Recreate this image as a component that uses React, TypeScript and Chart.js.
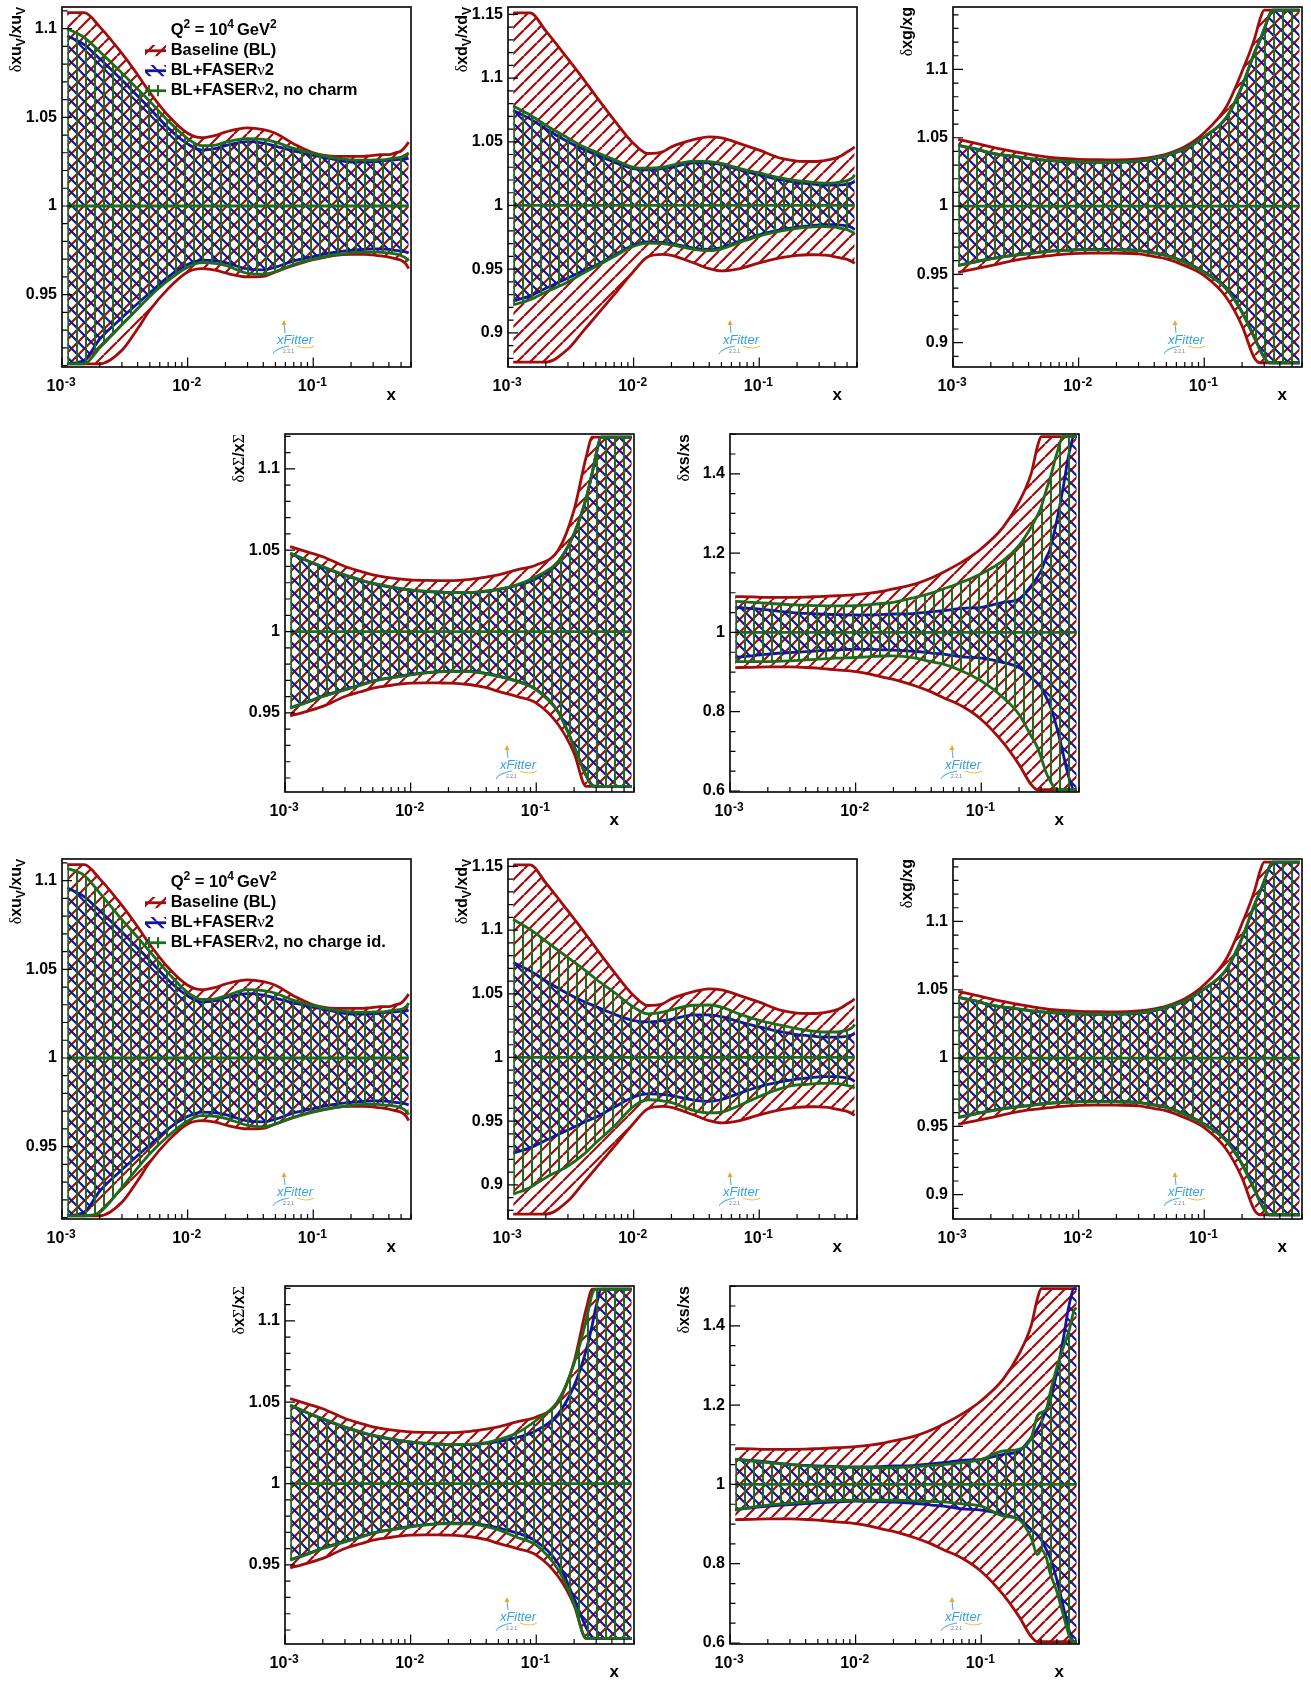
import React, { useEffect, useRef } from 'react';
import { Chart, registerables } from 'chart.js';

Chart.register(...registerables);

// ---------------- data ----------------
const X = [0.0011, 0.0015, 0.002, 0.003, 0.004, 0.005, 0.007, 0.01, 0.013, 0.017, 0.02, 0.03, 0.04, 0.05, 0.07, 0.1, 0.15, 0.2, 0.25, 0.28, 0.3, 0.33, 0.35, 0.4, 0.45, 0.5, 0.55, 0.575];
const CENTRAL = 1;

// xu_v
const UV_BL_UP = [1.109, 1.109, 1.101, 1.086, 1.074, 1.064, 1.051, 1.041, 1.0385, 1.040, 1.0417, 1.044, 1.043, 1.041, 1.035, 1.030, 1.028, 1.028, 1.028, 1.0283, 1.0285, 1.0288, 1.029, 1.029, 1.030, 1.031, 1.034, 1.036];
const UV_BL_LO = [0.911, 0.911, 0.911, 0.9186, 0.9308, 0.9412, 0.9534, 0.9628, 0.9647, 0.9637, 0.9622, 0.960, 0.9603, 0.9628, 0.9665, 0.9697, 0.9722, 0.9727, 0.9727, 0.9726, 0.9724, 0.972, 0.9718, 0.9712, 0.9703, 0.9694, 0.9671, 0.9647];
const UV_F2_UP = [1.096, 1.091, 1.083, 1.071, 1.062, 1.055, 1.044, 1.035, 1.0315, 1.0325, 1.034, 1.0363, 1.0355, 1.0338, 1.031, 1.0286, 1.0261, 1.0248, 1.0248, 1.0248, 1.025, 1.0252, 1.0254, 1.0258, 1.026, 1.0263, 1.0266, 1.0269];
const UV_F2_LO = [0.911, 0.913, 0.925, 0.937, 0.945, 0.951, 0.960, 0.967, 0.9695, 0.969, 0.968, 0.9645, 0.964, 0.9655, 0.969, 0.9715, 0.974, 0.975, 0.9755, 0.9757, 0.9758, 0.9758, 0.9757, 0.9755, 0.975, 0.9745, 0.974, 0.9735];
const UV_NC_UP = [1.100, 1.095, 1.087, 1.075, 1.066, 1.059, 1.048, 1.038, 1.034, 1.0345, 1.036, 1.038, 1.0375, 1.036, 1.0325, 1.0295, 1.027, 1.026, 1.0258, 1.0258, 1.026, 1.026, 1.026, 1.0265, 1.027, 1.0275, 1.029, 1.030];
const UV_NC_LO = [0.911, 0.911, 0.920, 0.933, 0.942, 0.949, 0.958, 0.9655, 0.968, 0.9675, 0.9665, 0.962, 0.9615, 0.963, 0.967, 0.970, 0.9725, 0.9735, 0.974, 0.974, 0.974, 0.974, 0.9738, 0.9735, 0.973, 0.972, 0.9705, 0.969];
const UV_NQ_UP = [1.107, 1.103, 1.093, 1.078, 1.068, 1.060, 1.048, 1.037, 1.033, 1.0335, 1.035, 1.0385, 1.038, 1.0365, 1.0325, 1.0295, 1.027, 1.026, 1.0258, 1.0258, 1.026, 1.026, 1.026, 1.0265, 1.027, 1.0275, 1.029, 1.031];
const UV_NQ_LO = [0.911, 0.911, 0.913, 0.927, 0.938, 0.946, 0.956, 0.9645, 0.9675, 0.967, 0.966, 0.962, 0.9612, 0.9628, 0.9665, 0.9695, 0.972, 0.9732, 0.9738, 0.9738, 0.9738, 0.9738, 0.9736, 0.9733, 0.9728, 0.9718, 0.970, 0.968];

// xd_v
const DV_BL_UP = [1.1512, 1.1512, 1.137, 1.115, 1.099, 1.086, 1.067, 1.0486, 1.0408, 1.0421, 1.046, 1.0517, 1.0538, 1.053, 1.0486, 1.0434, 1.0369, 1.0348, 1.0345, 1.0345, 1.0348, 1.0352, 1.0357, 1.037, 1.039, 1.042, 1.0445, 1.046];
const DV_BL_LO = [0.8771, 0.8771, 0.8771, 0.8873, 0.9018, 0.913, 0.930, 0.9483, 0.9597, 0.9616, 0.9608, 0.955, 0.9504, 0.9486, 0.9504, 0.955, 0.959, 0.9608, 0.9613, 0.9613, 0.9612, 0.961, 0.9608, 0.9597, 0.9587, 0.9577, 0.9558, 0.9545];
const DV_F2_UP = [1.0745, 1.068, 1.060, 1.050, 1.044, 1.040, 1.034, 1.029, 1.028, 1.029, 1.030, 1.0335, 1.0335, 1.032, 1.028, 1.024, 1.020, 1.018, 1.017, 1.0165, 1.0162, 1.016, 1.016, 1.016, 1.0162, 1.0168, 1.0178, 1.019];
const DV_F2_LO = [0.925, 0.929, 0.935, 0.943, 0.949, 0.953, 0.961, 0.969, 0.9715, 0.971, 0.970, 0.9665, 0.9655, 0.967, 0.972, 0.977, 0.981, 0.983, 0.984, 0.9845, 0.9848, 0.985, 0.985, 0.985, 0.9845, 0.984, 0.9825, 0.981];
const DV_NC_UP = [1.078, 1.071, 1.063, 1.053, 1.046, 1.042, 1.036, 1.030, 1.0293, 1.030, 1.0315, 1.0348, 1.0345, 1.033, 1.029, 1.0255, 1.0215, 1.0195, 1.0185, 1.018, 1.0178, 1.0175, 1.0175, 1.0178, 1.0185, 1.0195, 1.0215, 1.024];
const DV_NC_LO = [0.922, 0.926, 0.932, 0.940, 0.947, 0.952, 0.960, 0.968, 0.9705, 0.970, 0.969, 0.9655, 0.9645, 0.966, 0.971, 0.976, 0.980, 0.982, 0.983, 0.9833, 0.9835, 0.9835, 0.9833, 0.983, 0.982, 0.981, 0.979, 0.977];
const DV_NQ_UP = [1.1083, 1.1005, 1.0914, 1.0784, 1.0693, 1.0616, 1.0512, 1.0395, 1.0343, 1.0355, 1.0375, 1.041, 1.0412, 1.0395, 1.034, 1.0291, 1.0252, 1.0226, 1.021, 1.0205, 1.0202, 1.020, 1.020, 1.020, 1.0205, 1.0215, 1.0235, 1.026];
const DV_NQ_LO = [0.8927, 0.898, 0.9057, 0.9148, 0.9239, 0.933, 0.946, 0.9616, 0.9668, 0.966, 0.9645, 0.9585, 0.9565, 0.957, 0.9625, 0.9693, 0.9758, 0.9784, 0.979, 0.9795, 0.9797, 0.9797, 0.9797, 0.9797, 0.979, 0.978, 0.977, 0.9758];

// xg
const G_BL_UP = [1.0488, 1.046, 1.0434, 1.040, 1.038, 1.0365, 1.035, 1.0342, 1.034, 1.0338, 1.0338, 1.0345, 1.036, 1.038, 1.0434, 1.0537, 1.0728, 1.0985, 1.1218, 1.1377, 1.1434, 1.1434, 1.1434, 1.1434, 1.1434, 1.1434, 1.1434, 1.1434];
const G_BL_LO = [0.9515, 0.954, 0.9564, 0.960, 0.962, 0.963, 0.9645, 0.9654, 0.9656, 0.9656, 0.9655, 0.965, 0.963, 0.9613, 0.9564, 0.949, 0.9331, 0.9123, 0.889, 0.8853, 0.8853, 0.8853, 0.8853, 0.8853, 0.8853, 0.8853, 0.8853, 0.8853];
const G_F2_UP = [1.0444, 1.0418, 1.0388, 1.0363, 1.0348, 1.0338, 1.0328, 1.0321, 1.032, 1.032, 1.0321, 1.0328, 1.0348, 1.0371, 1.0418, 1.0505, 1.0647, 1.0877, 1.1117, 1.1222, 1.1294, 1.1398, 1.1434, 1.1434, 1.1434, 1.1434, 1.1434, 1.1434];
const G_F2_LO = [0.9566, 0.9592, 0.9615, 0.9639, 0.9652, 0.9664, 0.9674, 0.9681, 0.9682, 0.9682, 0.9681, 0.9676, 0.9657, 0.9639, 0.959, 0.9517, 0.9395, 0.9225, 0.9042, 0.8945, 0.8895, 0.8853, 0.8853, 0.8853, 0.8853, 0.8853, 0.8853, 0.8853];
const G_NC_UP = [1.0446, 1.042, 1.039, 1.0365, 1.035, 1.034, 1.033, 1.0323, 1.0322, 1.0322, 1.0323, 1.033, 1.035, 1.0373, 1.042, 1.0507, 1.065, 1.088, 1.112, 1.1225, 1.1297, 1.140, 1.1434, 1.1434, 1.1434, 1.1434, 1.1434, 1.1434];
const G_NC_LO = [0.9564, 0.959, 0.9613, 0.9637, 0.965, 0.9662, 0.9672, 0.9679, 0.968, 0.968, 0.9679, 0.9674, 0.9655, 0.9637, 0.9588, 0.9515, 0.9392, 0.9221, 0.9037, 0.894, 0.889, 0.8853, 0.8853, 0.8853, 0.8853, 0.8853, 0.8853, 0.8853];
const G_NQ_UP = [1.0446, 1.042, 1.039, 1.0365, 1.035, 1.034, 1.033, 1.0323, 1.0322, 1.0322, 1.0323, 1.033, 1.035, 1.0373, 1.042, 1.0507, 1.065, 1.088, 1.112, 1.1225, 1.1297, 1.140, 1.1434, 1.1434, 1.1434, 1.1434, 1.1434, 1.1434];
const G_NQ_LO = [0.9564, 0.959, 0.9613, 0.9637, 0.965, 0.9662, 0.9672, 0.9679, 0.968, 0.968, 0.9679, 0.9674, 0.9655, 0.9637, 0.9588, 0.9515, 0.9392, 0.9221, 0.9037, 0.894, 0.889, 0.8853, 0.8853, 0.8853, 0.8853, 0.8853, 0.8853, 0.8853];

// xSigma
const SIG_BL_UP = [1.0522, 1.049, 1.046, 1.040, 1.037, 1.0348, 1.033, 1.0317, 1.0314, 1.0313, 1.0313, 1.0321, 1.0335, 1.0348, 1.0379, 1.0409, 1.0501, 1.0747, 1.1075, 1.1195, 1.1195, 1.1195, 1.1195, 1.1195, 1.1195, 1.1195, 1.1195, 1.1195];
const SIG_BL_LO = [0.9482, 0.951, 0.954, 0.9601, 0.963, 0.9652, 0.967, 0.9683, 0.9685, 0.9684, 0.9683, 0.9673, 0.9655, 0.9632, 0.9601, 0.956, 0.9427, 0.9253, 0.9048, 0.9048, 0.9048, 0.9048, 0.9048, 0.9048, 0.9048, 0.9048, 0.9048, 0.9048];
const SIG_F2_UP = [1.048, 1.0435, 1.0395, 1.0345, 1.0315, 1.0295, 1.0272, 1.0255, 1.0247, 1.0242, 1.024, 1.024, 1.0248, 1.0258, 1.0283, 1.0325, 1.043, 1.060, 1.082, 1.098, 1.109, 1.1195, 1.1195, 1.1195, 1.1195, 1.1195, 1.1195, 1.1195];
const SIG_F2_LO = [0.9532, 0.9568, 0.9603, 0.9645, 0.9672, 0.9695, 0.9717, 0.9736, 0.9747, 0.9754, 0.9756, 0.9756, 0.9743, 0.9727, 0.9697, 0.9645, 0.9505, 0.9295, 0.9115, 0.9055, 0.9048, 0.9048, 0.9048, 0.9048, 0.9048, 0.9048, 0.9048, 0.9048];
const SIG_NC_UP = [1.0482, 1.0437, 1.0399, 1.0348, 1.0318, 1.0297, 1.0274, 1.0256, 1.0248, 1.0243, 1.024, 1.024, 1.025, 1.026, 1.0287, 1.0338, 1.0432, 1.0603, 1.0823, 1.0983, 1.1093, 1.1195, 1.1195, 1.1195, 1.1195, 1.1195, 1.1195, 1.1195];
const SIG_NC_LO = [0.9529, 0.9565, 0.9601, 0.9642, 0.967, 0.9693, 0.9715, 0.9734, 0.9745, 0.9752, 0.9754, 0.9754, 0.974, 0.9724, 0.9693, 0.9642, 0.9502, 0.9292, 0.9112, 0.9052, 0.9048, 0.9048, 0.9048, 0.9048, 0.9048, 0.9048, 0.9048, 0.9048];
const SIG_NQ_UP = [1.0482, 1.0437, 1.0399, 1.0348, 1.0318, 1.0297, 1.0274, 1.0256, 1.0248, 1.0243, 1.024, 1.0242, 1.0252, 1.027, 1.031, 1.0389, 1.0512, 1.0737, 1.1003, 1.117, 1.1195, 1.1195, 1.1195, 1.1195, 1.1195, 1.1195, 1.1195, 1.1195];
const SIG_NQ_LO = [0.9529, 0.9565, 0.9601, 0.9642, 0.967, 0.9693, 0.9715, 0.9734, 0.9745, 0.9752, 0.9753, 0.9752, 0.9735, 0.9715, 0.967, 0.9621, 0.9468, 0.9263, 0.9048, 0.9048, 0.9048, 0.9048, 0.9048, 0.9048, 0.9048, 0.9048, 0.9048, 0.9048];

// xs
const S_BL_UP = [1.0903, 1.0895, 1.0886, 1.0886, 1.089, 1.0903, 1.0925, 1.0954, 1.099, 1.105, 1.1097, 1.1224, 1.137, 1.152, 1.1773, 1.2111, 1.2659, 1.3292, 1.401, 1.4686, 1.4939, 1.4939, 1.4939, 1.4939, 1.4939, 1.4939, 1.4939, 1.4939];
const S_BL_LO = [0.9113, 0.912, 0.913, 0.913, 0.9115, 0.9097, 0.9055, 0.9012, 0.895, 0.886, 0.8818, 0.8649, 0.85, 0.8354, 0.8143, 0.7805, 0.7214, 0.6665, 0.6159, 0.6032, 0.6032, 0.6032, 0.6032, 0.6032, 0.6032, 0.6032, 0.6032, 0.6032];
const S_F2_UP = [1.0633, 1.06, 1.0566, 1.0507, 1.048, 1.0464, 1.045, 1.0439, 1.044, 1.0455, 1.0464, 1.0481, 1.052, 1.0549, 1.0608, 1.0633, 1.076, 1.0844, 1.118, 1.14, 1.1562, 1.19, 1.2068, 1.2828, 1.3672, 1.4517, 1.4939, 1.4939];
const S_F2_LO = [0.9367, 0.941, 0.9451, 0.9493, 0.9515, 0.9536, 0.9557, 0.9578, 0.957, 0.956, 0.9552, 0.9519, 0.948, 0.9451, 0.9384, 0.935, 0.924, 0.9113, 0.886, 0.872, 0.8607, 0.835, 0.8185, 0.7594, 0.6918, 0.6327, 0.6032, 0.6032];
const S_NC_UP = [1.0785, 1.076, 1.0735, 1.07, 1.0685, 1.0675, 1.067, 1.0675, 1.070, 1.0735, 1.076, 1.0886, 1.099, 1.1097, 1.1266, 1.1477, 1.1815, 1.2195, 1.266, 1.295, 1.3166, 1.36, 1.3842, 1.4517, 1.4939, 1.4939, 1.4939, 1.4939];
const S_NC_LO = [0.9265, 0.9265, 0.9265, 0.9282, 0.9305, 0.9325, 0.935, 0.9367, 0.939, 0.9405, 0.9409, 0.935, 0.926, 0.9198, 0.9029, 0.8776, 0.8354, 0.7931, 0.7383, 0.71, 0.6834, 0.645, 0.6285, 0.6032, 0.6032, 0.6032, 0.6032, 0.6032];
const S_NQ_UP = [1.063, 1.059, 1.055, 1.05, 1.047, 1.045, 1.044, 1.043, 1.0425, 1.042, 1.042, 1.045, 1.048, 1.05, 1.055, 1.0633, 1.0844, 1.0886, 1.118, 1.173, 1.1815, 1.19, 1.225, 1.2955, 1.346, 1.388, 1.44, 1.445];
const S_NQ_LO = [0.935, 0.943, 0.948, 0.952, 0.955, 0.957, 0.959, 0.96, 0.96, 0.96, 0.96, 0.958, 0.957, 0.956, 0.951, 0.945, 0.9198, 0.9113, 0.865, 0.8227, 0.835, 0.815, 0.7805, 0.7298, 0.6707, 0.62, 0.6032, 0.6032];

// axis ticks
const X_MIN = 0.001;
const X_MAX = 0.6;
const X_DECADES = [0.001, 0.01, 0.1];
const X_TICK_LABELS = ['10', '10', '10'];
const X_TICK_EXPONENTS = ['-3', '-2', '-1'];

const UV_Y_MAJOR = [0.95, 1, 1.05, 1.1];
const UV_Y_LABELS = ['0.95', '1', '1.05', '1.1'];
const DV_Y_MAJOR = [0.9, 0.95, 1, 1.05, 1.1, 1.15];
const DV_Y_LABELS = ['0.9', '0.95', '1', '1.05', '1.1', '1.15'];
const G_Y_MAJOR = [0.9, 0.95, 1, 1.05, 1.1];
const G_Y_LABELS = ['0.9', '0.95', '1', '1.05', '1.1'];
const SIG_Y_MAJOR = [0.95, 1, 1.05, 1.1];
const SIG_Y_LABELS = ['0.95', '1', '1.05', '1.1'];
const S_Y_MAJOR = [0.6, 0.8, 1, 1.2, 1.4];
const S_Y_LABELS = ['0.6', '0.8', '1', '1.2', '1.4'];

const LEGEND_NC = ['Baseline (BL)', 'BL+FASERν2', 'BL+FASERν2, no charm'];
const LEGEND_NQ = ['Baseline (BL)', 'BL+FASERν2', 'BL+FASERν2, no charge id.'];

// ---------------- style ----------------
const RED = '#a30c0c';
const BLUE = '#1414a0';
const GREEN = '#1d6b1d';
const SANS = '"Liberation Sans", Arimo, Arial, Helvetica, sans-serif';
const SERIF = '"Liberation Serif", "DejaVu Serif", serif';
const LINE_W = 2.8;
const X_LABEL_SHIFT = -6.5;

type Piece = { t: string; k: 'b' | 'sym' | 'sub' | 'sup' | 'gap'; w?: number };

const TITLE_UV: Piece[] = [{ t: 'δ', k: 'sym' }, { t: 'xu', k: 'b' }, { t: 'V', k: 'sub' }, { t: '/xu', k: 'b' }, { t: 'V', k: 'sub' }];
const TITLE_DV: Piece[] = [{ t: 'δ', k: 'sym' }, { t: 'xd', k: 'b' }, { t: 'V', k: 'sub' }, { t: '/xd', k: 'b' }, { t: 'V', k: 'sub' }];
const TITLE_G: Piece[] = [{ t: 'δ', k: 'sym' }, { t: 'xg/xg', k: 'b' }];
const TITLE_SIG: Piece[] = [{ t: 'δ', k: 'sym' }, { t: 'x', k: 'b' }, { t: 'Σ', k: 'sym' }, { t: '/x', k: 'b' }, { t: 'Σ', k: 'sym' }];
const TITLE_S: Piece[] = [{ t: 'δ', k: 'sym' }, { t: 'xs/xs', k: 'b' }];
const Q_PIECES: Piece[] = [{ t: 'Q', k: 'b' }, { t: '2', k: 'sup' }, { t: ' = 10', k: 'b' }, { t: '4', k: 'sup' }, { t: '', k: 'gap', w: 3 }, { t: 'GeV', k: 'b' }, { t: '2', k: 'sup' }];

function pieceFont(k: string, size: number) {
  if (k === 'sym') return `${size}px ${SERIF}`;
  if (k === 'sub' || k === 'sup') return `bold ${Math.round(size * 0.72)}px ${SANS}`;
  return `bold ${size}px ${SANS}`;
}
function piecesWidth(ctx: CanvasRenderingContext2D, pieces: Piece[], size: number) {
  let w = 0;
  for (const p of pieces) {
    if (p.k === 'gap') { w += p.w || 0; continue; }
    ctx.font = pieceFont(p.k, size);
    w += ctx.measureText(p.t).width;
  }
  return w;
}
function drawPieces(ctx: CanvasRenderingContext2D, pieces: Piece[], x: number, y: number, size: number) {
  let cx = x;
  for (const p of pieces) {
    if (p.k === 'gap') { cx += p.w || 0; continue; }
    ctx.font = pieceFont(p.k, size);
    const dy = p.k === 'sub' ? size * 0.26 : p.k === 'sup' ? -size * 0.4 : 0;
    ctx.fillText(p.t, cx, y + dy);
    cx += ctx.measureText(p.t).width;
  }
}
function textPieces(s: string): Piece[] {
  const parts = s.split('ν');
  const out: Piece[] = [];
  parts.forEach((p, i) => {
    if (i > 0) out.push({ t: 'ν', k: 'sym' });
    if (p) out.push({ t: p, k: 'b' });
  });
  return out;
}

type Hatch = 'fwd' | 'back' | 'vert';
function makeHatch(kind: Hatch, color: string): any {
  const c = document.createElement('canvas');
  const s = kind === 'vert' ? 9 : 13;
  c.width = s;
  c.height = s;
  const g = c.getContext('2d')!;
  g.strokeStyle = color;
  g.fillStyle = color;
  if (kind === 'vert') {
    g.fillRect(4, 0, 2, s);
  } else {
    g.lineWidth = 2.2;
    g.beginPath();
    for (let k = -1; k <= 1; k++) {
      if (kind === 'fwd') { g.moveTo(k * s, s); g.lineTo(k * s + s, 0); }
      else { g.moveTo(k * s, 0); g.lineTo(k * s + s, s); }
    }
    g.stroke();
  }
  return g.createPattern(c, 'repeat') || color;
}

const X_TICK_VALUES: number[] = [];
for (const d of X_DECADES) {
  for (let m = 1; m <= 9; m++) {
    const v = +(d * m).toPrecision(6);
    if (v <= X_MAX + 1e-9) X_TICK_VALUES.push(v);
  }
}
const decadeIdx = (v: number) => X_DECADES.findIndex((d) => Math.abs(v - d) / d < 1e-6);

function yTickValues(min: number, max: number, step: number) {
  const out: number[] = [];
  const a = Math.ceil(min / step - 1e-9);
  const b = Math.floor(max / step + 1e-9);
  for (let k = a; k <= b; k++) out.push(+(k * step).toFixed(6));
  return out;
}

type Band = { up: number[]; lo: number[] };
type PanelCfg = {
  L: number; T: number; h: number;
  yMin: number; yMax: number; yMajor: number[]; yLabels: string[]; yStep: number;
  title: Piece[];
  red: Band; blue: Band; green: Band;
  legend?: string[];
};

const PAD_TOP = 16;
const PAD_RIGHT = 12;
const Y_AXIS_W = 62;
const X_AXIS_H = 38;
const PLOT_W = 349;
const CANVAS_W = Y_AXIS_W + PLOT_W + PAD_RIGHT;

const GROUPS = [
  { dy: 0, green: 'nc' },
  { dy: 852, green: 'nq' },
];

function buildPanels(): PanelCfg[] {
  const out: PanelCfg[] = [];
  for (const g of GROUPS) {
    const nq = g.green === 'nq';
    out.push({
      L: 62, T: 7 + g.dy, h: 360, yMin: 0.9092, yMax: 1.1122, yMajor: UV_Y_MAJOR, yLabels: UV_Y_LABELS, yStep: 0.01, title: TITLE_UV,
      red: { up: UV_BL_UP, lo: UV_BL_LO }, blue: { up: UV_F2_UP, lo: UV_F2_LO },
      green: nq ? { up: UV_NQ_UP, lo: UV_NQ_LO } : { up: UV_NC_UP, lo: UV_NC_LO },
      legend: nq ? LEGEND_NQ : LEGEND_NC,
    });
    out.push({
      L: 508, T: 7 + g.dy, h: 360, yMin: 0.8732, yMax: 1.1558, yMajor: DV_Y_MAJOR, yLabels: DV_Y_LABELS, yStep: 0.01, title: TITLE_DV,
      red: { up: DV_BL_UP, lo: DV_BL_LO }, blue: { up: DV_F2_UP, lo: DV_F2_LO },
      green: nq ? { up: DV_NQ_UP, lo: DV_NQ_LO } : { up: DV_NC_UP, lo: DV_NC_LO },
    });
    out.push({
      L: 953, T: 7 + g.dy, h: 360, yMin: 0.8822, yMax: 1.1457, yMajor: G_Y_MAJOR, yLabels: G_Y_LABELS, yStep: 0.01, title: TITLE_G,
      red: { up: G_BL_UP, lo: G_BL_LO }, blue: { up: G_F2_UP, lo: G_F2_LO },
      green: nq ? { up: G_NQ_UP, lo: G_NQ_LO } : { up: G_NC_UP, lo: G_NC_LO },
    });
    out.push({
      L: 285, T: 434 + g.dy, h: 358, yMin: 0.9014, yMax: 1.1214, yMajor: SIG_Y_MAJOR, yLabels: SIG_Y_LABELS, yStep: 0.01, title: TITLE_SIG,
      red: { up: SIG_BL_UP, lo: SIG_BL_LO }, blue: { up: SIG_F2_UP, lo: SIG_F2_LO },
      green: nq ? { up: SIG_NQ_UP, lo: SIG_NQ_LO } : { up: SIG_NC_UP, lo: SIG_NC_LO },
    });
    out.push({
      L: 730, T: 434 + g.dy, h: 358, yMin: 0.5975, yMax: 1.5004, yMajor: S_Y_MAJOR, yLabels: S_Y_LABELS, yStep: 0.05, title: TITLE_S,
      red: { up: S_BL_UP, lo: S_BL_LO }, blue: { up: S_F2_UP, lo: S_F2_LO },
      green: nq ? { up: S_NQ_UP, lo: S_NQ_LO } : { up: S_NC_UP, lo: S_NC_LO },
    });
  }
  return out;
}
const PANELS = buildPanels();

function drawLogo(ctx: CanvasRenderingContext2D, a: any) {
  const bx = a.left;
  const by = a.bottom;
  ctx.save();
  ctx.lineWidth = 1.1;
  ctx.strokeStyle = '#57b0e6';
  ctx.beginPath();
  ctx.moveTo(bx + 211, by - 13);
  ctx.quadraticCurveTo(bx + 214, by - 19, bx + 227, by - 21);
  ctx.stroke();
  ctx.strokeStyle = '#f1c24a';
  ctx.beginPath();
  ctx.moveTo(bx + 235, by - 21);
  ctx.quadraticCurveTo(bx + 245, by - 17, bx + 252, by - 21);
  ctx.stroke();
  ctx.strokeStyle = '#57b0e6';
  ctx.beginPath();
  ctx.moveTo(bx + 223, by - 34);
  ctx.lineTo(bx + 222, by - 43);
  ctx.stroke();
  ctx.fillStyle = '#f0a528';
  ctx.beginPath();
  ctx.moveTo(bx + 222, by - 47);
  ctx.lineTo(bx + 219.5, by - 42);
  ctx.lineTo(bx + 224.5, by - 42);
  ctx.closePath();
  ctx.fill();
  ctx.font = `italic 13px ${SANS}`;
  ctx.fillStyle = '#36a2e4';
  ctx.textAlign = 'right';
  ctx.textBaseline = 'alphabetic';
  ctx.fillText('xFitter', bx + 251, by - 23);
  ctx.font = `5px ${SANS}`;
  ctx.fillStyle = '#7a7a7a';
  ctx.textAlign = 'left';
  ctx.fillText('2.2.1', bx + 221, by - 14);
  ctx.restore();
}

function Panel({ cfg }: { cfg: PanelCfg }) {
  const ref = useRef<HTMLCanvasElement | null>(null);
  const H = PAD_TOP + cfg.h + X_AXIS_H;
  useEffect(() => {
    const canvas = ref.current;
    if (!canvas) return;
    const pats = {
      fwd: makeHatch('fwd', RED),
      back: makeHatch('back', BLUE),
      vert: makeHatch('vert', GREEN),
    };
    const mk = (arr: number[]) => arr.map((y, i) => ({ x: X[i], y }));
    const base = { pointRadius: 0, borderWidth: LINE_W, cubicInterpolationMode: 'monotone', borderJoinStyle: 'round' };
    const yTicks = yTickValues(cfg.yMin, cfg.yMax, cfg.yStep);
    const majorIdx = (v: number) => cfg.yMajor.findIndex((m) => Math.abs(m - v) < 1e-6);

    const decor = {
      id: 'rootDecor',
      afterDraw(chart: any) {
        const ctx: CanvasRenderingContext2D = chart.ctx;
        const a = chart.chartArea;
        const xs = chart.scales.x;
        const ys = chart.scales.y;
        ctx.save();
        ctx.strokeStyle = '#000';
        ctx.lineWidth = 1.2;
        ctx.beginPath();
        for (const t of xs.ticks) {
          const px = xs.getPixelForValue(t.value);
          const len = decadeIdx(t.value) >= 0 ? 9.5 : 5;
          ctx.moveTo(px, a.bottom);
          ctx.lineTo(px, a.bottom - len);
        }
        for (const t of ys.ticks) {
          const py = ys.getPixelForValue(t.value);
          const len = majorIdx(t.value) >= 0 ? 10 : 5.5;
          ctx.moveTo(a.left, py);
          ctx.lineTo(a.left + len, py);
        }
        ctx.stroke();
        ctx.lineWidth = 1.6;
        ctx.strokeRect(a.left, a.top, a.right - a.left, a.bottom - a.top);

        ctx.fillStyle = '#000';
        ctx.textBaseline = 'alphabetic';
        ctx.textAlign = 'left';
        // exponents of the decade labels
        ctx.font = `bold 16px ${SANS}`;
        const w10 = ctx.measureText('10').width;
        ctx.font = `bold 12px ${SANS}`;
        for (const t of xs.ticks) {
          const i = decadeIdx(t.value);
          if (i < 0) continue;
          const px = xs.getPixelForValue(t.value) + X_LABEL_SHIFT + w10 / 2 + 0.5;
          ctx.fillText(X_TICK_EXPONENTS[i], px, a.bottom + 19);
        }
        // y title
        ctx.save();
        ctx.translate(a.left - 41, a.top);
        ctx.rotate(-Math.PI / 2);
        const tw = piecesWidth(ctx, cfg.title, 16);
        drawPieces(ctx, cfg.title, -tw, 0, 16);
        ctx.restore();
        // x title
        ctx.font = `bold 17px ${SANS}`;
        ctx.textAlign = 'right';
        ctx.fillText('x', a.right - 15, a.bottom + 33);
        ctx.textAlign = 'left';

        drawLogo(ctx, a);

        if (cfg.legend) {
          const x0 = a.left + 108.7;
          drawPieces(ctx, Q_PIECES, x0, a.top + 27.5, 16.5);
          const syms = [
            { pat: pats.fwd, color: RED },
            { pat: pats.back, color: BLUE },
            { pat: pats.vert, color: GREEN },
          ];
          cfg.legend.forEach((lab, i) => {
            const by = a.top + 48 + 20 * i;
            const sx = a.left + 83;
            const sw = 21;
            const sy = by - 10;
            const sh = 11.5;
            ctx.save();
            ctx.beginPath();
            ctx.rect(sx, sy, sw, sh);
            ctx.clip();
            ctx.fillStyle = syms[i].pat;
            ctx.fillRect(sx, sy, sw, sh);
            ctx.restore();
            ctx.strokeStyle = syms[i].color;
            ctx.lineWidth = LINE_W;
            ctx.beginPath();
            ctx.moveTo(sx, sy + sh / 2);
            ctx.lineTo(sx + sw, sy + sh / 2);
            ctx.stroke();
            ctx.fillStyle = '#000';
            drawPieces(ctx, textPieces(lab), x0, by, 16.5);
          });
        }
        ctx.restore();
      },
    };

    const chart = new Chart(canvas, {
      type: 'line',
      data: {
        datasets: [
          { ...base, data: [{ x: X[0], y: CENTRAL }, { x: X[X.length - 1], y: CENTRAL }], borderColor: GREEN, fill: false, order: 0 },
          { ...base, data: mk(cfg.green.up), borderColor: GREEN, backgroundColor: pats.vert, fill: '+1', order: 1 },
          { ...base, data: mk(cfg.green.lo), borderColor: GREEN, fill: false, order: 1 },
          { ...base, data: mk(cfg.blue.up), borderColor: BLUE, backgroundColor: pats.back, fill: '+1', order: 2 },
          { ...base, data: mk(cfg.blue.lo), borderColor: BLUE, fill: false, order: 2 },
          { ...base, data: mk(cfg.red.up), borderColor: RED, backgroundColor: pats.fwd, fill: '+1', order: 3 },
          { ...base, data: mk(cfg.red.lo), borderColor: RED, fill: false, order: 3 },
        ] as any,
      },
      options: {
        responsive: false,
        animation: false,
        devicePixelRatio: 1,
        events: [],
        layout: { padding: { left: 0, top: PAD_TOP, right: PAD_RIGHT, bottom: 0 } },
        plugins: { legend: { display: false }, tooltip: { enabled: false }, title: { display: false } },
        scales: {
          x: {
            type: 'logarithmic',
            min: X_MIN,
            max: X_MAX,
            afterBuildTicks: (s: any) => { s.ticks = X_TICK_VALUES.map((v) => ({ value: v })); },
            afterFit: (s: any) => { s.height = X_AXIS_H; },
            grid: { display: false, drawTicks: false },
            border: { display: false },
            ticks: {
              autoSkip: false, maxRotation: 0, minRotation: 0, padding: 10, color: '#000',
              labelOffset: X_LABEL_SHIFT,
              font: { family: SANS, weight: 'bold', size: 16 },
              callback: (v: any) => {
                const i = decadeIdx(Number(v));
                return i >= 0 ? X_TICK_LABELS[i] : '';
              },
            },
          },
          y: {
            type: 'linear',
            min: cfg.yMin,
            max: cfg.yMax,
            afterBuildTicks: (s: any) => { s.ticks = yTicks.map((v) => ({ value: v })); },
            afterFit: (s: any) => { s.width = Y_AXIS_W; },
            grid: { display: false, drawTicks: false },
            border: { display: false },
            ticks: {
              autoSkip: false, padding: 5, color: '#000',
              font: { family: SANS, weight: 'bold', size: 16 },
              callback: (v: any) => {
                const i = majorIdx(Number(v));
                return i >= 0 ? cfg.yLabels[i] : '';
              },
            },
          },
        },
      } as any,
      plugins: [decor as any],
    });
    return () => chart.destroy();
  }, []);
  return (
    <canvas
      ref={ref}
      width={CANVAS_W}
      height={H}
      style={{ position: 'absolute', left: cfg.L - Y_AXIS_W, top: cfg.T - PAD_TOP, width: CANVAS_W, height: H }}
    />
  );
}

export default function App() {
  return (
    <div style={{ position: 'absolute', left: 0, top: 0, width: 1311, height: 1686, overflow: 'hidden', background: '#fff' }}>
      {PANELS.map((p, i) => (
        <Panel key={i} cfg={p} />
      ))}
    </div>
  );
}
